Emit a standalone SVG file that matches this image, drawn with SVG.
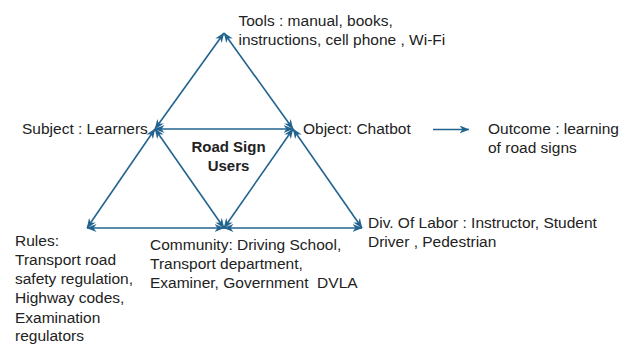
<svg xmlns="http://www.w3.org/2000/svg" width="622" height="344" viewBox="0 0 622 344">
  <style>
    .lbl { font-family: "Liberation Sans", Arial, sans-serif; font-size: 15.5px; fill: #222222; }
    .title { font-family: "Liberation Sans", Arial, sans-serif; font-size: 15px; font-weight: bold; fill: #222222; text-anchor: middle; }
    .edge { stroke: #23648f; stroke-width: 1.6; fill: none; }
  </style>
  <defs>
    <marker id="head" viewBox="0 0 10 8" refX="9.5" refY="4" markerWidth="10" markerHeight="8" markerUnits="userSpaceOnUse" orient="auto-start-reverse">
      <path d="M0,0 L10,4 L0,8 L3,4 Z" fill="#23648f"/>
    </marker>
  </defs>
  <rect width="622" height="344" fill="#ffffff"/>

  <!-- connectors of the activity triangle -->
  <g id="connectors">
    <line class="edge" x1="155" y1="129" x2="224" y2="33" marker-start="url(#head)" marker-end="url(#head)"/>
    <line class="edge" x1="224" y1="33" x2="293" y2="129" marker-start="url(#head)" marker-end="url(#head)"/>
    <line class="edge" x1="155" y1="129" x2="293" y2="129" marker-start="url(#head)" marker-end="url(#head)"/>
    <line class="edge" x1="155" y1="129" x2="87" y2="228" marker-start="url(#head)" marker-end="url(#head)"/>
    <line class="edge" x1="155" y1="129" x2="224" y2="228" marker-start="url(#head)" marker-end="url(#head)"/>
    <line class="edge" x1="293" y1="129" x2="224" y2="228" marker-start="url(#head)" marker-end="url(#head)"/>
    <line class="edge" x1="293" y1="129" x2="362" y2="228" marker-start="url(#head)" marker-end="url(#head)"/>
    <line class="edge" x1="87" y1="228" x2="224" y2="228" marker-start="url(#head)" marker-end="url(#head)"/>
    <line class="edge" x1="224" y1="228" x2="362" y2="228" marker-start="url(#head)" marker-end="url(#head)"/>
    <line class="edge" x1="433" y1="129.5" x2="469" y2="129.5" marker-end="url(#head)"/>
  </g>

  <g id="tools">
    <text class="lbl" x="238.5" y="26">Tools : manual, books,</text>
    <text class="lbl" x="238.5" y="44.5">instructions, cell phone , Wi-Fi</text>
  </g>

  <g id="subject">
    <text class="lbl" x="22" y="133.5">Subject : Learners</text>
  </g>

  <g id="object">
    <text class="lbl" x="303" y="134">Object: Chatbot</text>
  </g>

  <g id="outcome">
    <text class="lbl" x="488" y="134">Outcome : learning</text>
    <text class="lbl" x="488" y="153">of road signs</text>
  </g>

  <g id="centre">
    <text class="title" x="228.5" y="152">Road Sign</text>
    <text class="title" x="228.5" y="171">Users</text>
  </g>

  <g id="rules">
    <text class="lbl" x="15" y="246">Rules:</text>
    <text class="lbl" x="15" y="265">Transport road</text>
    <text class="lbl" x="15" y="284">safety regulation,</text>
    <text class="lbl" x="15" y="303">Highway codes,</text>
    <text class="lbl" x="15" y="322.5">Examination</text>
    <text class="lbl" x="15" y="341">regulators</text>
  </g>

  <g id="community">
    <text class="lbl" x="150" y="250">Community: Driving School,</text>
    <text class="lbl" x="150" y="269">Transport department,</text>
    <text class="lbl" x="150" y="288" xml:space="preserve">Examiner, Government  DVLA</text>
  </g>

  <g id="division">
    <text class="lbl" x="368" y="227.5">Div. Of Labor : Instructor, Student</text>
    <text class="lbl" x="368" y="246.5">Driver , Pedestrian</text>
  </g>
</svg>
